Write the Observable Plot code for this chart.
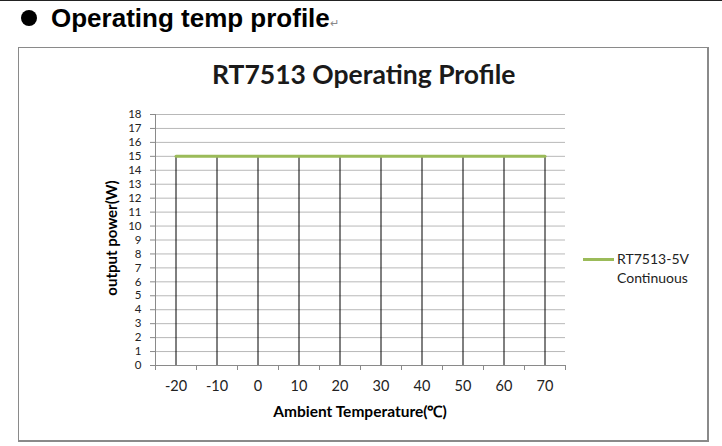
<!DOCTYPE html>
<html>
<head>
<meta charset="utf-8">
<script src="https://cdn.jsdelivr.net/npm/d3@7"></script>
<script src="https://cdn.jsdelivr.net/npm/@observablehq/plot@0.6"></script>
<style>
  html, body { margin: 0; padding: 0; background: #fff; }
  #wrap { position: relative; width: 722px; height: 446px; overflow: hidden; background: #fff; font-family: Lato, "Open Sans", sans-serif; }
  #topline { position: absolute; left: 0; top: 0; width: 722px; height: 1px; background: #222; }
  #header { position: absolute; left: 21px; top: 3px; font-family: "Liberation Sans", Arial, sans-serif; font-weight: bold; font-size: 26px; color: #000; white-space: nowrap; }
  #header .dot { display: inline-block; width: 16px; height: 16px; border-radius: 50%; background: #000; margin-right: 14px; vertical-align: 1px; }
  #header .ret { font-size: 11px; font-weight: normal; color: #888; }
  #box { position: absolute; left: 18px; top: 47px; width: 688px; height: 392px; border: 2px solid #8a8a8a; border-top-width: 1px; border-left-width: 1px; }
  #chart { position: absolute; left: 0; top: 0; }
  #title { position: absolute; left: 212px; width: 300px; top: 58px; text-align: center; font-weight: bold; font-size: 26.5px; color: #1a1a1a; white-space: nowrap; }
  #ylabel { position: absolute; left: 111px; top: 238px; transform: translate(-50%, -50%) rotate(-90deg); font-weight: bold; font-size: 15px; color: #000; white-space: nowrap; }
  #xlabel { position: absolute; left: 360px; top: 400px; transform: translateX(-50%); font-weight: bold; font-size: 15.5px; color: #000; white-space: nowrap; }
  #legend { position: absolute; left: 583px; top: 249px; font-size: 14px; color: #222; line-height: 19px; }
  #legend .sw { position: absolute; left: 0; top: 9px; width: 31px; height: 3px; background: #9bbb59; }
  #legend .txt { position: absolute; left: 34px; top: 0; white-space: nowrap; }
</style>
</head>
<body>
<div id="wrap">
  <div id="topline"></div>
  <div id="header"><span class="dot"></span>Operating temp profile<span class="ret">↵</span></div>
  <div id="box"></div>
  <div id="chart"></div>
  <div id="title">RT7513 Operating Profile</div>
  <div id="ylabel">output power(W)</div>
  <div id="xlabel">Ambient Temperature(℃)</div>
  <div id="legend"><div class="sw"></div><div class="txt">RT7513-5V<br>Continuous</div></div>
</div>
<script>
// Data
const temps = [-20, -10, 0, 10, 20, 30, 40, 50, 60, 70];
const power = [15, 15, 15, 15, 15, 15, 15, 15, 15, 15];
const yTicks = [0, 1, 2, 3, 4, 5, 6, 7, 8, 9, 10, 11, 12, 13, 14, 15, 16, 17, 18];
const seriesName = "RT7513-5V Continuous";

const data = temps.map((t, i) => ({temp: t, power: power[i]}));
const step = temps[1] - temps[0];
const boundaries = [temps[0] - step / 2, ...temps.map(t => t + step / 2)];

const gridColor = "#b8b8b8";
const axisColor = "#8a8a8a";

const chart = Plot.plot({
  width: 722,
  height: 446,
  marginLeft: 155,
  marginRight: 157,
  marginTop: 114,
  marginBottom: 81,
  style: {fontFamily: "Lato, 'Open Sans', sans-serif", background: "transparent", color: "#222"},
  x: {type: "linear", domain: [boundaries[0], boundaries[boundaries.length - 1]], label: null},
  y: {domain: [0, 18], label: null},
  marks: [
    Plot.gridY(yTicks.filter(d => d > 0), {stroke: gridColor, strokeOpacity: 1}),
    Plot.axisY(yTicks, {tickSize: 5, tickPadding: 9, stroke: axisColor, fontSize: 11.5, label: null, fill: "#222", tickFormat: d => String(d)}),
    Plot.axisX(boundaries, {tickSize: 5, tickFormat: () => "", stroke: axisColor, label: null}),
    Plot.axisX(temps, {tickSize: 0, tickPadding: 15, fontSize: 14.5, label: null, fill: "#222", tickFormat: d => String(d)}),
    Plot.ruleX([boundaries[0]], {stroke: axisColor}),
    Plot.ruleY([0], {stroke: axisColor}),
    Plot.ruleX(data, {x: "temp", y1: 0, y2: "power", stroke: "#000", strokeWidth: 1}),
    Plot.line(data, {x: "temp", y: "power", stroke: "#9bbb59", strokeWidth: 3, title: () => seriesName})
  ]
});
document.getElementById("chart").appendChild(chart);
</script>
</body>
</html>
